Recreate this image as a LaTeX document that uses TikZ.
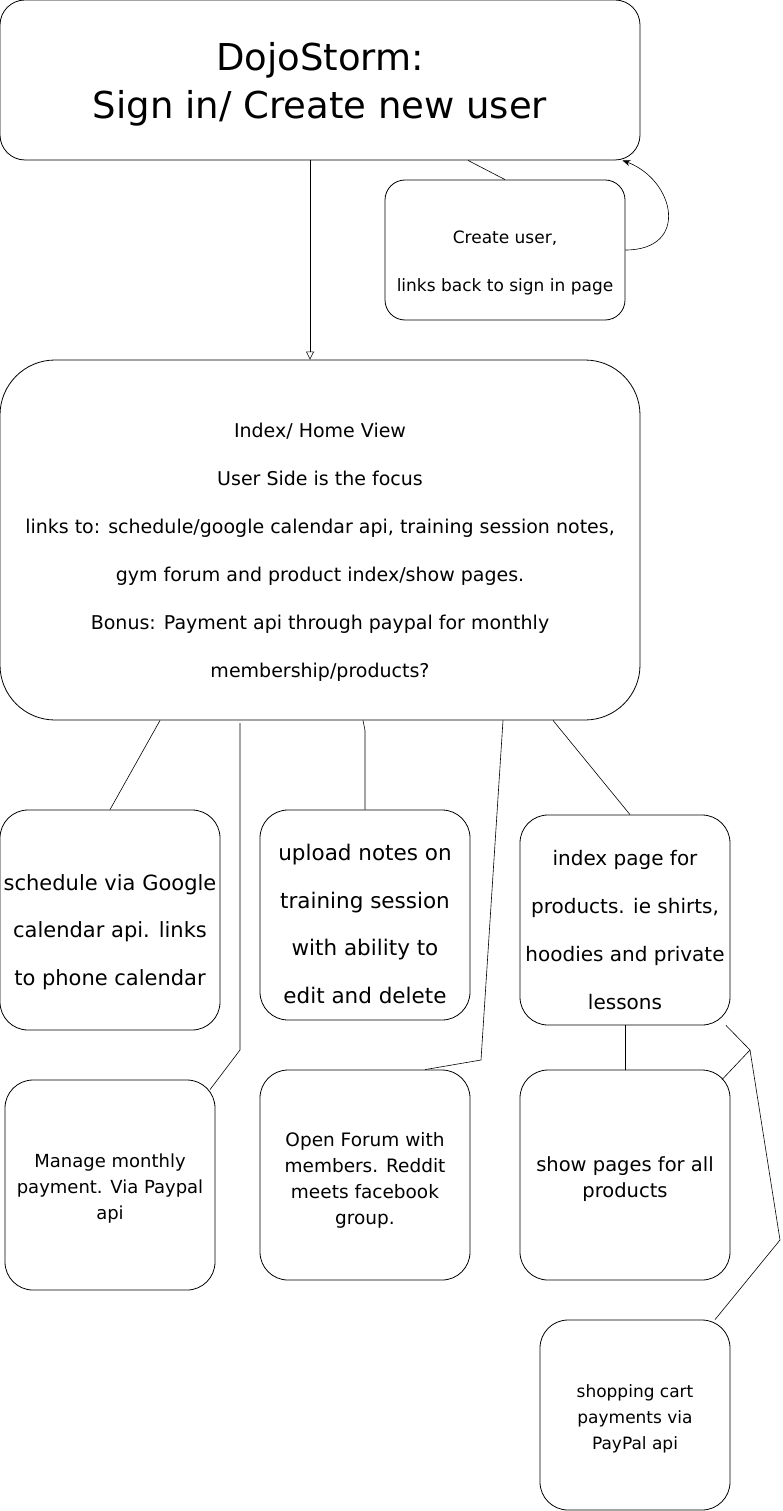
\documentclass[tikz,border=0pt]{standalone}
\usepackage{fontspec}
\setmainfont{DejaVu Sans}
\usetikzlibrary{positioning,arrows.meta,calc}
% pushes a node's text block down by #1
\newcommand{\lowerby}[1]{\rule{0pt}{\dimexpr0.76em+2\dimexpr#1\relax\relax}}

\begin{document}
\begin{tikzpicture}[
  x=1pt, y=-1pt,
  line width=0.8pt,
  card/.style={
    rectangle, draw=black, fill=white, align=center, inner sep=2pt
  },
  link/.style={draw=black, line width=0.6pt}
]
\useasboundingbox (0,0) rectangle (782,1511);

% --- SIGN IN ---
\node[card, rounded corners=25pt, minimum width=640pt, minimum height=160pt,
  font=\fontsize{37}{48}\selectfont] (signin) at (320,80)
  {\lowerby{4pt}DojoStorm:\\Sign in/ Create new user};

\node[card, rounded corners=20pt, minimum width=240pt, minimum height=140pt,
  font=\fontsize{17}{48}\selectfont] (create) at (505,250)
  {\lowerby{13pt}Create user,\\links back to sign in page};

% --- INDEX ---
\node[card, rounded corners=55pt, minimum width=640pt, minimum height=360pt,
  font=\fontsize{19}{48}\selectfont] (index) at (320,540)
  {\lowerby{12pt}Index/ Home View\\User Side is the focus\\links to: schedule/google calendar api, training session notes,\\gym forum and product index/show pages.\\Bonus: Payment api through paypal for monthly\\membership/products?};

% --- FEATURE PAGES ---
\node[card, rounded corners=28pt, minimum width=220pt, minimum height=220pt,
  font=\fontsize{21}{47.5}\selectfont] (schedule) at (110,920)
  {\lowerby{12pt}schedule via Google\\calendar api. links\\to phone calendar};
\node[card, rounded corners=28pt, minimum width=210pt, minimum height=210pt,
  font=\fontsize{21.5}{47.5}\selectfont] (notes) at (365,915)
  {\lowerby{9pt}upload notes on\\training session\\with ability to\\edit and delete};
\node[card, rounded corners=28pt, minimum width=210pt, minimum height=210pt,
  font=\fontsize{20}{48}\selectfont] (products) at (625,920)
  {\lowerby{10pt}index page for\\products. ie shirts,\\hoodies and private\\lessons};

\node[card, rounded corners=28pt, minimum width=210pt, minimum height=210pt,
  font=\fontsize{18}{26}\selectfont] (payment) at (110,1185)
  {\lowerby{4pt}Manage monthly\\payment. Via Paypal\\api};
\node[card, rounded corners=28pt, minimum width=210pt, minimum height=210pt,
  font=\fontsize{18.5}{26}\selectfont] (forum) at (365,1175)
  {\lowerby{5pt}Open Forum with\\members. Reddit\\meets facebook\\group.};
\node[card, rounded corners=28pt, minimum width=210pt, minimum height=210pt,
  font=\fontsize{19.5}{26}\selectfont] (show) at (625,1175)
  {\lowerby{4pt}show pages for all\\products};
\node[card, rounded corners=28pt, minimum width=190pt, minimum height=190pt,
  font=\fontsize{17}{26}\selectfont] (cart) at (635,1415)
  {\lowerby{4pt}shopping cart\\payments via\\PayPal api};

% --- bend points ---
\coordinate (payturn) at (240,1050);
\coordinate (paytop) at (240,723);
\coordinate (forumturn) at (481,1060);
\coordinate (cartfork) at (750,1050);
\coordinate (cartturn) at (780,1240);

% --- connectors ---
\draw[link, -{Triangle[open, length=8pt, width=8pt]}]
  ([xshift=-10pt]signin.south) -- ([xshift=-10pt]index.north);
\draw[link] ([xshift=148pt]signin.south) -- (create.north);
\draw[link, -{Stealth[length=8pt]}] (create.east)
  .. controls (690,250) and (675,180) .. ([xshift=-18pt]signin.south east);

\draw[link] ([xshift=-160pt]index.south) -- ([xshift=0pt]schedule.north);
\draw[link] (paytop) -- (payturn) -- ([xshift=100pt,yshift=-10pt]payment.north);
\draw[link] ([xshift=43pt]index.south) -- ++(2,10) -- (notes.north);
\draw[link] ([xshift=183pt]index.south) -- (forumturn) -- ([xshift=60pt]forum.north);
\draw[link] ([xshift=233pt]index.south) -- ([xshift=5pt]products.north);

\draw[link] (products.south) -- (show.north);
\draw[link] ([xshift=101pt]products.south) -- (cartfork) -- ([xshift=97pt,yshift=-10pt]show.north);
\draw[link] (cartfork) -- (cartturn) -- ([xshift=80pt]cart.north);

\end{tikzpicture}
\end{document}
